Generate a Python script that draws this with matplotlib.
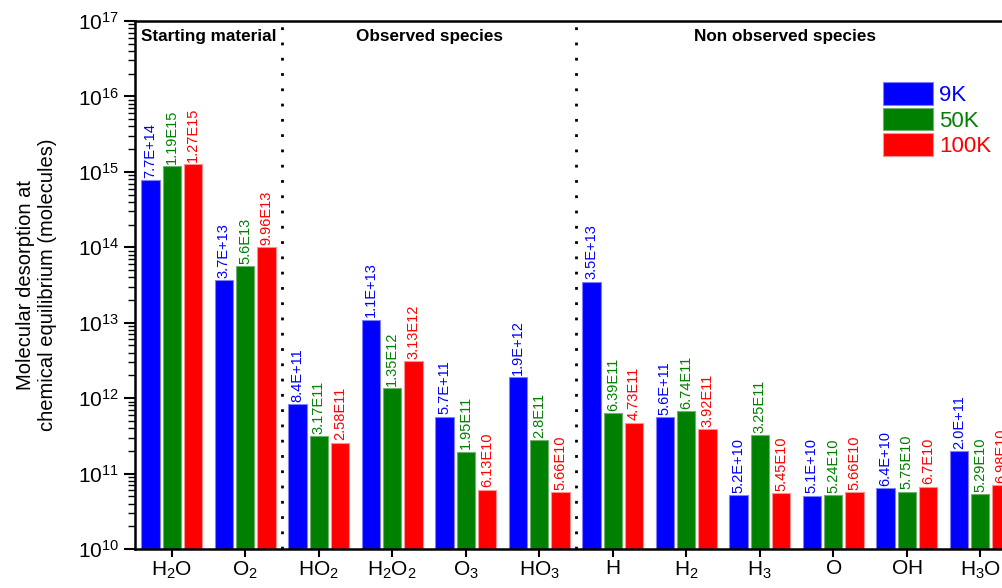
import numpy as np
import matplotlib
matplotlib.use('Agg')
import matplotlib.pyplot as plt

plt.rcParams['font.family'] = ['Liberation Sans', 'DejaVu Sans']
plt.rcParams['mathtext.fontset'] = 'custom'
plt.rcParams['mathtext.rm'] = 'Liberation Sans'
plt.rcParams['mathtext.it'] = 'Liberation Sans:italic'
plt.rcParams['mathtext.bf'] = 'Liberation Sans:bold'

# species (x axis)
species = [r'$\mathrm{H_2O}$', r'$\mathrm{O_2}$', r'$\mathrm{HO_2}$', r'$\mathrm{H_2O_2}$',
           r'$\mathrm{O_3}$', r'$\mathrm{HO_3}$', r'$\mathrm{H}$', r'$\mathrm{H_2}$',
           r'$\mathrm{H_3}$', r'$\mathrm{O}$', r'$\mathrm{OH}$', r'$\mathrm{H_3O}$']

# desorbed molecules at each temperature
val_9K = [7.7e14, 3.7e13, 8.4e11, 1.1e13, 5.7e11, 1.9e12, 3.5e13, 5.6e11, 5.2e10, 5.1e10, 6.4e10, 2.0e11]
val_50K = [1.19e15, 5.6e13, 3.17e11, 1.35e12, 1.95e11, 2.8e11, 6.39e11, 6.74e11, 3.25e11, 5.24e10, 5.75e10, 5.29e10]
val_100K = [1.27e15, 9.96e13, 2.58e11, 3.13e12, 6.13e10, 5.66e10, 4.73e11, 3.92e11, 5.45e10, 5.66e10, 6.7e10, 6.98e10]

lab_9K = ['7.7E+14', '3.7E+13', '8.4E+11', '1.1E+13', '5.7E+11', '1.9E+12', '3.5E+13', '5.6E+11',
          '5.2E+10', '5.1E+10', '6.4E+10', '2.0E+11']
lab_50K = ['1.19E15', '5.6E13', '3.17E11', '1.35E12', '1.95E11', '2.8E11', '6.39E11', '6.74E11',
           '3.25E11', '5.24E10', '5.75E10', '5.29E10']
lab_100K = ['1.27E15', '9.96E13', '2.58E11', '3.13E12', '6.13E10', '5.66E10', '4.73E11', '3.92E11',
            '5.45E10', '5.66E10', '6.7E10', '6.98E10']

temps = ['9K', '50K', '100K']
colors = ['#0000ff', '#008000', '#ff0000']
edges = ['#8080ff', '#70b070', '#ff9090']

sections = ['Starting material', 'Observed species', 'Non observed species']
section_x = [0.5, 3.5, 8.35]
dividers = [1.5, 5.5]

fig = plt.figure(figsize=(10.03, 5.88), dpi=100)
ax = fig.add_axes([135/1003, 1 - 549/588, 882/1003, 528/588])

x = np.arange(len(species))
step = 0.29
width = 0.25
series = [(val_9K, lab_9K), (val_50K, lab_50K), (val_100K, lab_100K)]
for i, (vals, labs) in enumerate(series):
    xs = x + (i - 1) * step
    ax.bar(xs, vals, width, color=colors[i], edgecolor=edges[i], linewidth=0.8, label=temps[i])
    for xi, v, t in zip(xs, vals, labs):
        ax.text(xi, v * 1.07, t, rotation=90, ha='center', va='bottom',
                color=colors[i], fontsize=10.5)

ax.set_yscale('log')
ax.set_ylim(1e10, 1e17)
ax.set_xlim(-0.5, len(species) - 0.5)
ax.set_xticks(x)
ax.set_xticklabels(species, fontsize=15)

for d in dividers:
    ax.axvline(d, color='black', linestyle=(0, (1, 4.5)), linewidth=2)

for s, sx in zip(sections, section_x):
    ax.text(sx, 0.97, s, transform=ax.get_xaxis_transform(), ha='center', va='center',
            fontsize=12.3, fontweight='bold')

ax.set_ylabel('Molecular desorption at\nchemical equilibrium (molecules)', fontsize=14.5)
ax.yaxis.set_label_coords(-0.088, 0.5)
ax.tick_params(axis='y', which='major', direction='out', length=8, width=1.5, labelsize=15)
ax.tick_params(axis='y', which='minor', direction='out', length=5, width=1)
ax.tick_params(axis='x', which='major', direction='out', length=6, width=1.5, pad=1.5)
for sp in ax.spines.values():
    sp.set_linewidth(1.8)

leg = ax.legend(loc='upper left', bbox_to_anchor=(883/1003, 1 - 82/588),
                bbox_transform=fig.transFigure, frameon=False, fontsize=16,
                handlelength=2.27, handleheight=1.2, labelspacing=0.08,
                handletextpad=0.27, borderpad=0, borderaxespad=0)
for t, c in zip(leg.get_texts(), colors):
    t.set_color(c)

fig.savefig('out.png', dpi=100)
